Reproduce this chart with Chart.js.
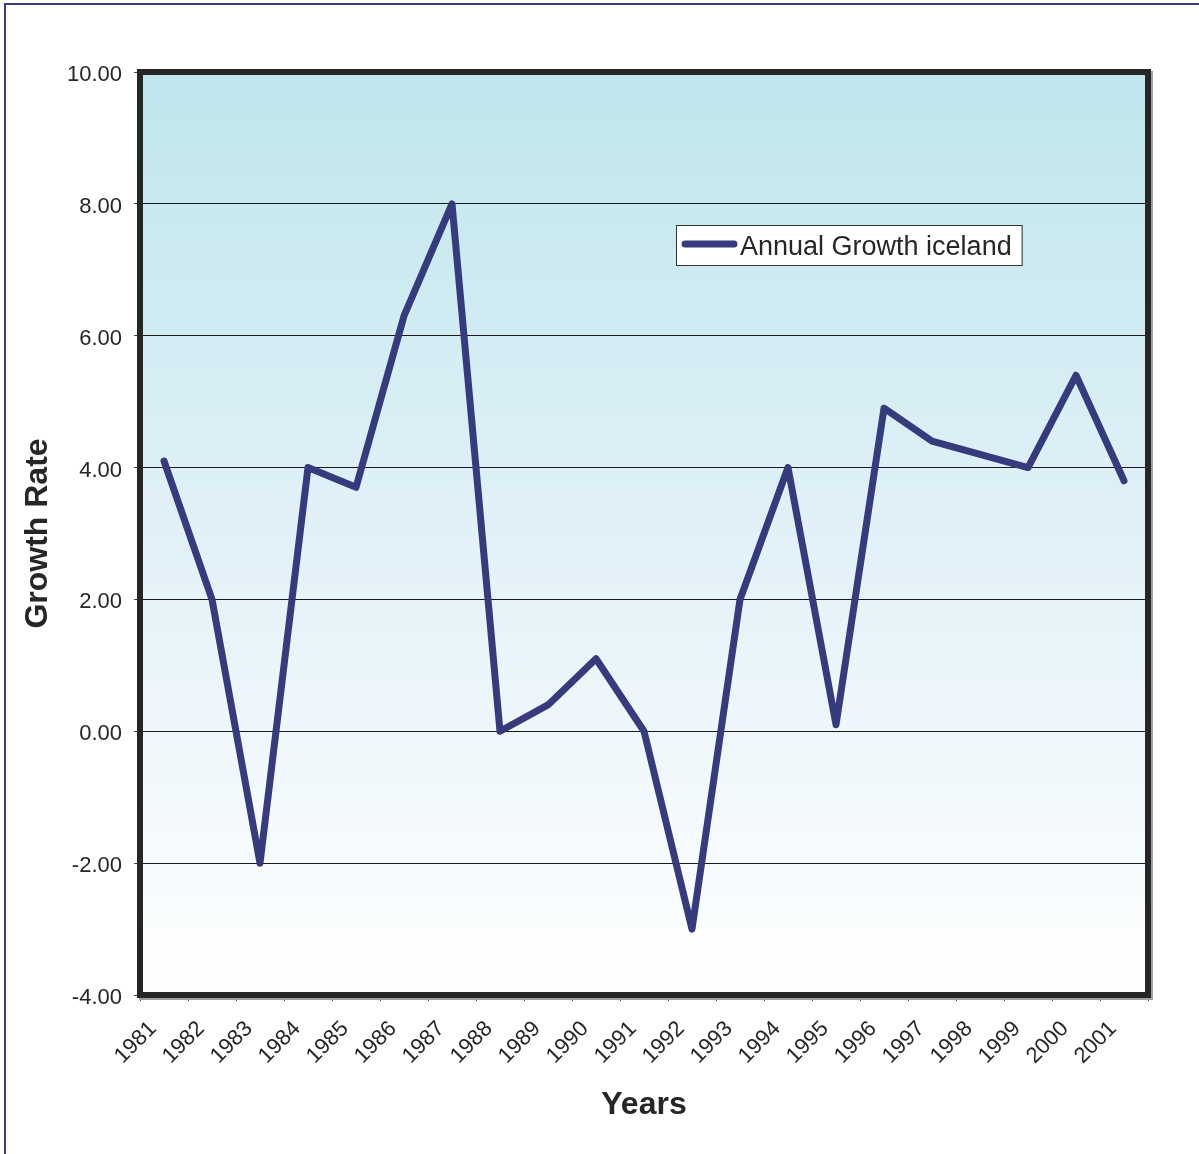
<!DOCTYPE html>
<html>
<head>
<meta charset="utf-8">
<title>Annual Growth iceland</title>
<script src="https://cdn.jsdelivr.net/npm/chart.js@4/dist/chart.umd.min.js"></script>
<style>
  html, body { margin: 0; padding: 0; background: #ffffff; }
  canvas { display: block; }
</style>
</head>
<body>
<canvas id="chart" width="1199" height="1154"></canvas>
<script>
// Annual growth rate, Iceland, 1981-2001
const years = ['1981', '1982', '1983', '1984', '1985', '1986', '1987', '1988', '1989', '1990', '1991',
               '1992', '1993', '1994', '1995', '1996', '1997', '1998', '1999', '2000', '2001'];
const growth = [4.1, 2.0, -2.0, 4.0, 3.7, 6.3, 8.0, 0.0, 0.4, 1.1, 0.0,
                -3.0, 2.0, 4.0, 0.1, 4.9, 4.4, 4.2, 4.0, 5.4, 3.8];
const seriesName = 'Annual Growth iceland';
const yMin = -4, yMax = 10, yStep = 2;

const FONT = '"Liberation Sans", Arial, Helvetica, sans-serif';
const LINE_COLOR = '#353b7d';
const TEXT_COLOR = '#262626';

// Page frame, gradient plot background and heavy plot border
const framePlugin = {
  id: 'frame',
  beforeDraw(chart) {
    const { ctx, chartArea: a } = chart;
    ctx.save();
    ctx.fillStyle = '#ffffff';
    ctx.fillRect(0, 0, chart.width, chart.height);
    ctx.fillStyle = '#3b4080';
    ctx.fillRect(4, 3, chart.width - 4, 2);
    ctx.fillRect(4, 3, 2, chart.height - 3);
    const g = ctx.createLinearGradient(0, a.top, 0, a.bottom);
    g.addColorStop(0, '#bee6ec');
    g.addColorStop(0.5, '#e2f1f8');
    g.addColorStop(1, '#ffffff');
    ctx.fillStyle = g;
    ctx.fillRect(a.left, a.top, a.right - a.left, a.bottom - a.top);
    ctx.restore();
  },
  afterDatasetsDraw(chart) {
    const { ctx, chartArea: a } = chart;
    const w = 6;
    ctx.save();
    // soft shadow along the outer right and bottom edges
    ctx.fillStyle = '#a0a0a0';
    ctx.fillRect(a.right + w / 2, a.top - w / 2 + 2, 2, a.bottom - a.top + w);
    ctx.fillRect(a.left - w / 2 + 2, a.bottom + w / 2, a.right - a.left + w, 2);
    ctx.lineWidth = w;
    ctx.strokeStyle = '#262626';
    ctx.strokeRect(a.left, a.top, a.right - a.left, a.bottom - a.top);
    ctx.restore();
  }
};

// Boxed legend inside the plot area
const boxLegendPlugin = {
  id: 'boxLegend',
  afterDatasetsDraw(chart) {
    const { ctx, chartArea: a } = chart;
    const ds = chart.data.datasets[0];
    ctx.save();
    ctx.font = '27px ' + FONT;
    const tw = ctx.measureText(ds.label).width;
    const x = a.left + 536, y = a.top + 153;
    const w = 74 + tw, h = 40;
    ctx.fillStyle = '#ffffff';
    ctx.fillRect(x, y, w, h);
    ctx.lineWidth = 1;
    ctx.strokeStyle = '#333333';
    ctx.strokeRect(x + 0.5, y + 0.5, w, h);
    ctx.strokeStyle = ds.borderColor;
    ctx.lineWidth = ds.borderWidth;
    ctx.lineCap = 'round';
    ctx.beginPath();
    ctx.moveTo(x + 9, y + 19);
    ctx.lineTo(x + 58, y + 19);
    ctx.stroke();
    ctx.fillStyle = TEXT_COLOR;
    ctx.textBaseline = 'middle';
    ctx.fillText(ds.label, x + 64, y + 23);
    ctx.restore();
  }
};

new Chart(document.getElementById('chart'), {
  type: 'line',
  data: {
    labels: years,
    datasets: [{
      label: seriesName,
      data: growth,
      borderColor: LINE_COLOR,
      backgroundColor: LINE_COLOR,
      borderWidth: 7,
      borderJoinStyle: 'round',
      borderCapStyle: 'round',
      pointRadius: 0,
      tension: 0,
      fill: false
    }]
  },
  options: {
    responsive: false,
    animation: false,
    devicePixelRatio: 1,
    layout: { padding: { top: 72, right: 51, left: 0, bottom: 0 } },
    plugins: {
      legend: { display: false },
      tooltip: { enabled: false }
    },
    scales: {
      x: {
        offset: true,
        border: { display: false },
        grid: {
          offset: true,
          drawOnChartArea: false,
          drawTicks: true,
          tickLength: 6,
          tickColor: '#444444',
          tickWidth: 1
        },
        ticks: {
          color: TEXT_COLOR,
          font: { family: FONT, size: 22 },
          minRotation: 45,
          maxRotation: 45,
          autoSkip: false,
          padding: 15,
          labelOffset: -11
        },
        title: {
          display: true,
          text: 'Years',
          color: TEXT_COLOR,
          font: { family: FONT, size: 32, weight: 'bold' },
          padding: { top: 0, bottom: 30 }
        },
        afterFit(scale) { scale.height = 159; }
      },
      y: {
        min: yMin,
        max: yMax,
        border: { display: false },
        grid: {
          color: '#1a1a1a',
          lineWidth: 1,
          tickLength: 6,
          tickColor: '#444444'
        },
        ticks: {
          stepSize: yStep,
          color: TEXT_COLOR,
          font: { family: FONT, size: 22 },
          padding: 12,
          labelOffset: 3,
          callback: v => Number(v).toFixed(2)
        },
        title: {
          display: true,
          text: 'Growth Rate',
          color: TEXT_COLOR,
          font: { family: FONT, size: 32, weight: 'bold' },
          padding: { top: 19, bottom: 0 }
        },
        afterFit(scale) { scale.width = 140; }
      }
    }
  },
  plugins: [framePlugin, boxLegendPlugin]
});
</script>
</body>
</html>
